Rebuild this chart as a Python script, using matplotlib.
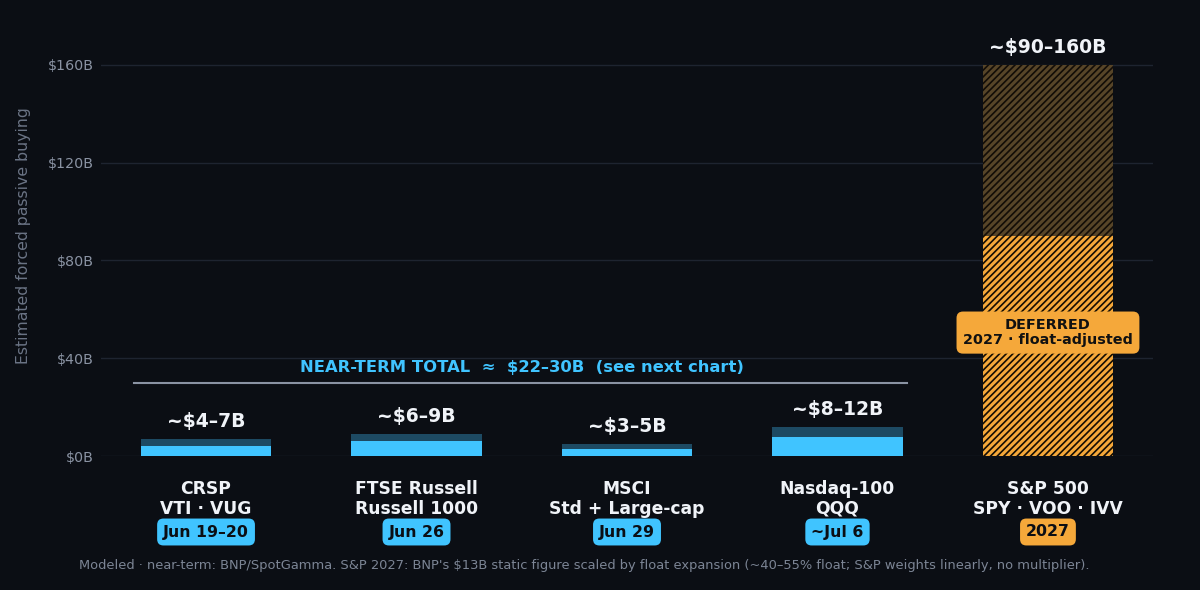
import matplotlib.pyplot as plt
import numpy as np

# index names, tickers and dates
indexes = ['CRSP', 'FTSE Russell', 'MSCI', 'Nasdaq-100', 'S&P 500']
funds = ['VTI · VUG', 'Russell 1000', 'Std + Large-cap', 'QQQ', 'SPY · VOO · IVV']
dates = ['Jun 19–20', 'Jun 26', 'Jun 29', '~Jul 6', '2027']
# low / high estimates in $B
low = [4, 6, 3, 8, 90]
high = [7, 9, 5, 12, 160]
range_labels = ['~$4–7B', '~$6–9B', '~$3–5B', '~$8–12B', '~$90–160B']
near_term_total = 30
yticks = [0, 40, 80, 120, 160]

bg = '#0b0e14'
blue = '#40c4ff'
blue_dark = '#1d4a63'
orange = '#f5a83a'
brown = '#574528'
grey = '#8a93a3'

plt.rcParams['font.family'] = 'DejaVu Sans'
plt.rcParams['hatch.linewidth'] = 1.2

fig = plt.figure(figsize=(12, 5.9), dpi=100, facecolor=bg)
ax = fig.add_axes([0.084, 0.227, 0.877, 0.746])
ax.set_facecolor(bg)

x = np.arange(len(indexes))
w = 0.62
near = x[:4]
# near-term bars: low part bright, range part dark
ax.bar(near, low[:4], width=w, color=blue, zorder=3)
ax.bar(near, np.array(high[:4]) - np.array(low[:4]), bottom=low[:4], width=w, color=blue_dark, zorder=3)
# S&P 2027 bar, hatched
ax.bar(x[4], low[4], width=w, color=orange, edgecolor='#140d03', linewidth=0, hatch='/////', zorder=3)
ax.bar(x[4], high[4] - low[4], bottom=low[4], width=w, color=brown, edgecolor='#120d07', linewidth=0, hatch='/////', zorder=3)

# range labels above bars
for i in range(len(indexes)):
    ax.text(x[i], high[i] + 7, range_labels[i], ha='center', va='center', color='#f0f3f8',
            fontsize=13.5, fontweight='bold', zorder=5)

# near-term total line
ax.plot([-0.34, 3.33], [near_term_total, near_term_total], color=grey, lw=1.5, zorder=4)
ax.text(1.5, near_term_total + 6.3, 'NEAR-TERM TOTAL  ≈  $22–30B  (see next chart)', ha='center', va='center',
        color=blue, fontsize=11.8, fontweight='bold')

# deferred badge
ax.text(x[4], 50.5, 'DEFERRED\n2027 · float-adjusted', ha='center', va='center', color='#111111',
        fontsize=10.4, fontweight='bold', linespacing=1.1, zorder=6,
        bbox=dict(boxstyle='round,pad=0.45,rounding_size=0.45', fc=orange, ec='none'))

# category labels under the axis
for i in range(len(indexes)):
    ax.annotate(indexes[i] + '\n' + funds[i], xy=(x[i], 1 - 499 / 590), xycoords=('data', 'figure fraction'),
                ha='center', va='center', color='#f0f3f8', fontsize=12.3, fontweight='bold', linespacing=1.1)
    badge_col = orange if i == 4 else blue
    ax.annotate(dates[i], xy=(x[i], 1 - 532 / 590), xycoords=('data', 'figure fraction'),
                ha='center', va='center', color='#0b0e14', fontsize=11.3, fontweight='bold',
                bbox=dict(boxstyle='round,pad=0.38,rounding_size=0.4', fc=badge_col, ec='none'))

ax.set_xlim(-0.5, 4.5)
ax.set_ylim(0, 180)
ax.set_yticks(yticks)
ax.set_yticklabels(['$%dB' % v for v in yticks])
ax.set_xticks([])
ax.tick_params(axis='y', length=0, colors=grey, labelsize=10.3, pad=5)
ax.grid(axis='y', color='#1e2430', lw=1, zorder=0)
for s in ax.spines.values():
    s.set_visible(False)
ax.set_ylabel('Estimated forced passive buying', color='#6b7485', fontsize=11.3, labelpad=12)

fig.text(0.487, 1 - 566 / 590,
         "Modeled · near-term: BNP/SpotGamma. S&P 2027: BNP's $13B static figure scaled by float expansion "
         "(~40–55% float; S&P weights linearly, no multiplier).",
         ha='center', va='center', color='#7c8595', fontsize=9.4)

fig.savefig('out.png', dpi=100, facecolor=bg)
